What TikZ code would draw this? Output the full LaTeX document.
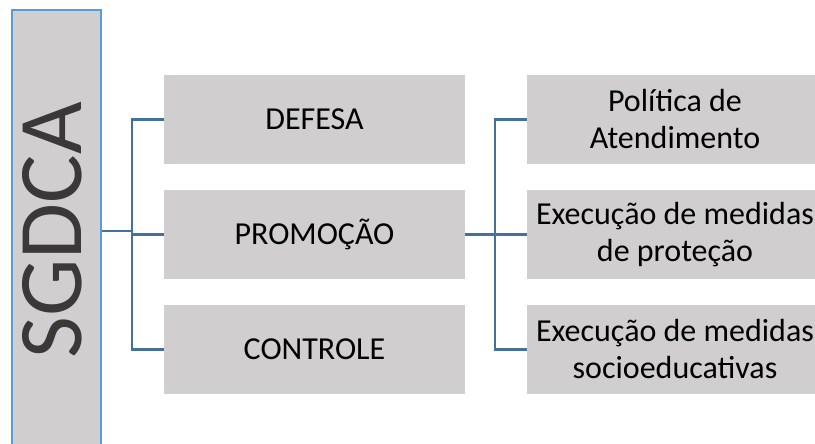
\documentclass[tikz,border=0pt]{standalone}
\usepackage{fontspec}
\setmainfont{Carlito}
\definecolor{boxgray}{HTML}{D0CECE}
\definecolor{rootline}{HTML}{5B9BD5}
\definecolor{linkblue}{HTML}{41719C}
\definecolor{titlegray}{HTML}{3B3838}
\tikzset{
  item/.style={fill=boxgray, minimum width=301pt, minimum height=89pt,
    inner sep=0pt, align=center, font=\fontsize{32}{37}\selectfont},
  subitem/.style={item, minimum width=296pt},
  link/.style={draw=linkblue, line width=2.6pt}
}
\begin{document}
\begin{tikzpicture}[x=1pt, y=-1pt]
      \useasboundingbox (0,0) rectangle (815,444);
      \clip (0,0) rectangle (815,444);
      % left column with the system name
      \node[draw=rootline, line width=2.4pt, fill=boxgray, rotate=90,
        minimum width=440pt, minimum height=89pt, text depth=9pt,
        text=titlegray, font=\fontsize{91}{100}\selectfont]
        (sgdca) at (56.5,230) {SGDCA};
      % the three axes
      \node[item] (defesa) at (314.5,119.5) {DEFESA};
      \node[item] (promocao) at (314.5,234.5) {PROMOÇÃO};
      \node[item] (controle) at (314.5,349.5) {CONTROLE};
      % what promotion covers
      \node[subitem] (politica) at (675,119.5) {Política de\\Atendimento};
      \node[subitem] (protecao) at (675,234.5) {Execução de medidas\\de proteção};
      \node[subitem] (socioedu) at (675,349.5) {Execução de medidas\\socioeducativas};
      \coordinate (rj) at (132,231);
      \coordinate (pj) at (495,234.5);
      \begin{scope}[link]
        \draw (sgdca.south |- rj) -- (rj);
        \draw (defesa.west) -- ++(-32,0) |- (controle.west);
        \draw (promocao.west) -- ++(-32,0);
        \draw (promocao.east) -- (pj);
        \draw (politica.west) -- ++(-32,0) |- (socioedu.west);
        \draw (protecao.west) -- (pj);
      \end{scope}
    \end{tikzpicture}
\end{document}
